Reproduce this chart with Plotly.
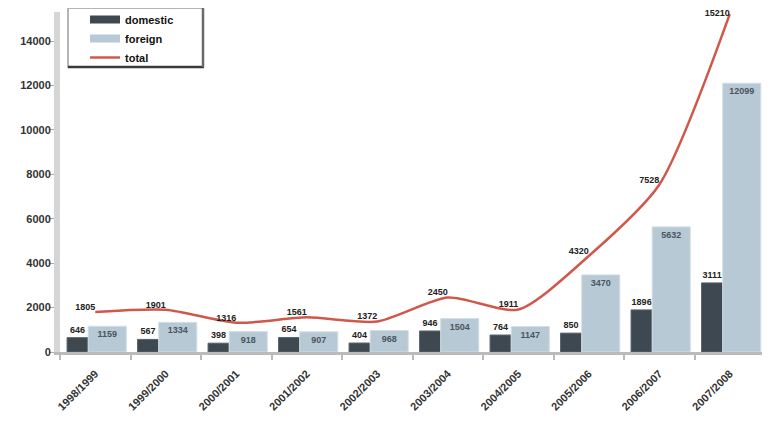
import plotly.graph_objects as go

years = ["1998/1999", "1999/2000", "2000/2001", "2001/2002", "2002/2003",
         "2003/2004", "2004/2005", "2005/2006", "2006/2007", "2007/2008"]
domestic = [646, 567, 398, 654, 404, 946, 764, 850, 1896, 3111]
foreign = [1159, 1334, 918, 907, 968, 1504, 1147, 3470, 5632, 12099]
total = [1805, 1901, 1316, 1561, 1372, 2450, 1911, 4320, 7528, 15210]
y_ticks = [0, 2000, 4000, 6000, 8000, 10000, 12000, 14000]
y_tick_text = [str(v) for v in y_ticks]

FONT = "Liberation Sans, Arial, sans-serif"
C_DOM = "#3e4850"
C_FOR = "#b7c9d5"
C_TOT = "#d0584a"

# page has an 8px body margin; size the figure to fill the rest of the window
OFF = 8
W, H = 770 - OFF, 429 - OFF
ML, MR, MT, MB = 60 - OFF, 5, 12 - OFF, 77
PW, PH = W - ML - MR, H - MT - MB


def px_x(px):
    return (px - OFF - ML) / PW


def px_y(py):
    return (OFF + H - MB - py) / PH


total_pos = ["top left"] * (len(total) - 1) + ["middle left"]

fig = go.Figure()
fig.add_trace(go.Bar(
    x=years, y=domestic, name="domestic", showlegend=False,
    marker=dict(color=C_DOM, line=dict(color="#5a646c", width=1)),
    offset=-0.40, width=0.30,
    text=domestic, textposition="outside", cliponaxis=False,
    constraintext="none",
    textfont=dict(family=FONT, size=9, color="#222222", weight="bold"),
))
fig.add_trace(go.Bar(
    x=years, y=foreign, name="foreign", showlegend=False,
    marker=dict(color=C_FOR, line=dict(color="#d3dee6", width=1)),
    offset=-0.10, width=0.54,
    text=foreign, textposition="inside", insidetextanchor="end",
    constraintext="none",
    textfont=dict(family=FONT, size=9, color="#4a5560", weight="bold"),
))
fig.add_trace(go.Scatter(
    x=years, y=total, name="total", mode="lines+text", showlegend=False,
    line=dict(color=C_TOT, width=2.5, shape="spline", smoothing=0.7),
    text=total, textposition=total_pos, cliponaxis=False,
    textfont=dict(family=FONT, size=9, color="#222222", weight="bold"),
))
# legend entries (swatches)
fig.add_trace(go.Scatter(x=[None], y=[None], mode="lines", name="domestic",
                         line=dict(color=C_DOM, width=8)))
fig.add_trace(go.Scatter(x=[None], y=[None], mode="lines", name="foreign",
                         line=dict(color=C_FOR, width=8)))
fig.add_trace(go.Scatter(x=[None], y=[None], mode="lines", name="total",
                         line=dict(color=C_TOT, width=2.5)))

# legend frame with shadow
bx0, bx1, by0, by1 = 68, 203, 8, 67
shapes = [
    dict(type="rect", xref="paper", yref="paper", layer="above",
         x0=px_x(bx0), x1=px_x(bx1), y0=px_y(by1), y1=px_y(by0),
         fillcolor="white", line=dict(color="#b5b5b5", width=2)),
    dict(type="line", xref="paper", yref="paper", layer="above",
         x0=px_x(bx0), x1=px_x(bx1 + 1), y0=px_y(by1), y1=px_y(by1),
         line=dict(color="#3a3a3a", width=2.5)),
    dict(type="line", xref="paper", yref="paper", layer="above",
         x0=px_x(bx1), x1=px_x(bx1), y0=px_y(by1), y1=px_y(by0),
         line=dict(color="#6a6a6a", width=2.5)),
]

fig.update_layout(
    width=W, height=H,
    margin=dict(l=ML, r=MR, t=MT, b=MB, autoexpand=False),
    paper_bgcolor="white", plot_bgcolor="white",
    barmode="overlay",
    font=dict(family=FONT, size=9, color="#333333"),
    showlegend=True,
    shapes=shapes,
    legend=dict(
        x=px_x(85), y=px_y(5), xanchor="left", yanchor="top",
        bgcolor="rgba(0,0,0,0)", borderwidth=0,
        font=dict(family=FONT, size=11, color="#111111", weight="bold"),
        tracegroupgap=0,
    ),
    xaxis=dict(
        type="category", tickangle=-45, automargin=False,
        showline=True, linecolor="#bbbbbb", linewidth=3,
        ticks="outside", tickson="boundaries", ticklen=5,
        tickcolor="#bbbbbb", tickwidth=2, showgrid=False,
        ticklabelstandoff=8,
        tickfont=dict(family=FONT, size=11, color="#333333", weight="bold"),
    ),
    yaxis=dict(
        range=[0, 15306], tickvals=y_ticks, ticktext=y_tick_text,
        automargin=False,
        showline=True, linecolor="#d6d6d6", linewidth=6,
        ticks="outside", ticklen=5, tickcolor="#aaaaaa", tickwidth=1,
        showgrid=False, zeroline=False, ticklabelstandoff=-4,
        tickfont=dict(family=FONT, size=11, color="#333333", weight="bold"),
    ),
)

fig.write_html("out.html")
